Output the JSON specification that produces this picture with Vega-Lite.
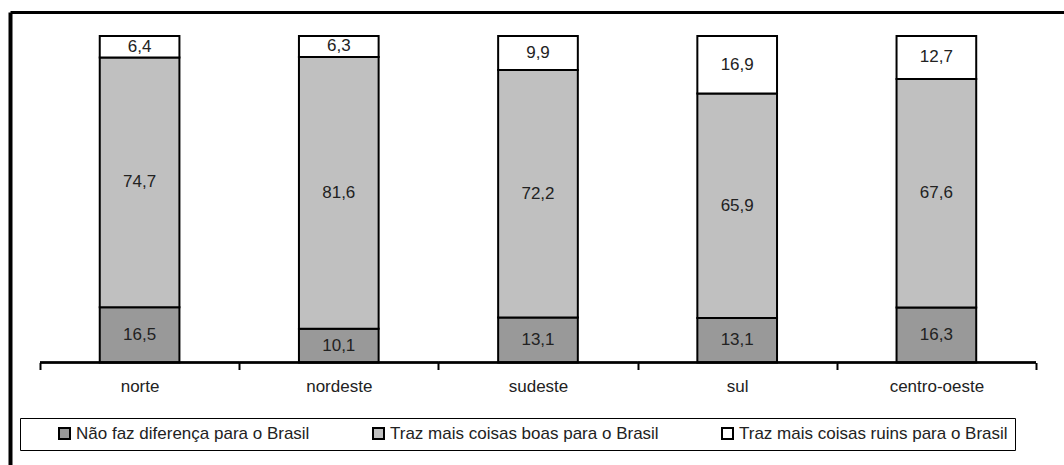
{
  "$schema": "https://vega.github.io/schema/vega-lite/v6.json",
  "width": 1054,
  "height": 453,
  "autosize": {"type": "none"},
  "padding": {"left": 10, "top": 12, "right": 0, "bottom": 0},
  "background": "#ffffff",
  "data": {
    "values": [
      {"region": "norte", "series": "Não faz diferença para o Brasil", "value": 16.5},
      {"region": "norte", "series": "Traz mais coisas boas para o Brasil", "value": 74.7},
      {"region": "norte", "series": "Traz mais coisas ruins para o Brasil", "value": 6.4},
      {"region": "nordeste", "series": "Não faz diferença para o Brasil", "value": 10.1},
      {"region": "nordeste", "series": "Traz mais coisas boas para o Brasil", "value": 81.6},
      {"region": "nordeste", "series": "Traz mais coisas ruins para o Brasil", "value": 6.3},
      {"region": "sudeste", "series": "Não faz diferença para o Brasil", "value": 13.1},
      {"region": "sudeste", "series": "Traz mais coisas boas para o Brasil", "value": 72.2},
      {"region": "sudeste", "series": "Traz mais coisas ruins para o Brasil", "value": 9.9},
      {"region": "sul", "series": "Não faz diferença para o Brasil", "value": 13.1},
      {"region": "sul", "series": "Traz mais coisas boas para o Brasil", "value": 65.9},
      {"region": "sul", "series": "Traz mais coisas ruins para o Brasil", "value": 16.9},
      {"region": "centro-oeste", "series": "Não faz diferença para o Brasil", "value": 16.3},
      {"region": "centro-oeste", "series": "Traz mais coisas boas para o Brasil", "value": 67.6},
      {"region": "centro-oeste", "series": "Traz mais coisas ruins para o Brasil", "value": 12.7}
    ]
  },
  "resolve": {"axis": {"x": "independent"}},
  "layer": [
    {
      "mark": {"type": "bar", "width": {"band": 0.4}, "stroke": "#000000", "strokeWidth": 2},
      "encoding": {
        "x": {
          "field": "region", "type": "nominal",
          "sort": ["norte", "nordeste", "sudeste", "sul", "centro-oeste"],
          "scale": {"paddingInner": 0, "paddingOuter": 0.1456, "align": 0.517},
          "axis": {
            "orient": "bottom", "offset": -102.5, "title": null, "domain": false,
            "ticks": true, "tickBand": "extent", "tickSize": 7, "tickWidth": 2, "tickColor": "#000000",
            "labelAngle": 0, "labelFont": "Liberation Sans", "labelFontSize": 17, "labelColor": "#222222",
            "labelPadding": 9, "grid": false
          }
        },
        "y": {
          "field": "value", "type": "quantitative", "stack": "normalize",
          "scale": {"domain": [-0.31394, 1.0735], "nice": false, "zero": false},
          "axis": {"orient": "left", "title": null, "domain": true, "domainWidth": 4, "domainColor": "#000000", "ticks": false, "labels": false, "grid": false}
        },
        "order": {"field": "series", "sort": "ascending"},
        "color": {
          "field": "series", "type": "nominal",
          "scale": {
            "domain": ["Não faz diferença para o Brasil", "Traz mais coisas boas para o Brasil", "Traz mais coisas ruins para o Brasil"],
            "range": ["#999999", "#c0c0c0", "#ffffff"]
          },
          "legend": {
            "title": " ", "titleOrient": "left", "titlePadding": 29, "titleFontSize": 17, "titleFont": "Liberation Sans",
            "orient": "none", "legendX": 10, "legendY": 406, "direction": "horizontal",
            "padding": 7, "strokeColor": "#000000", "fillColor": "#ffffff",
            "symbolType": "square", "symbolSize": 121, "symbolStrokeColor": "#000000", "symbolStrokeWidth": 2,
            "labelFont": "Liberation Sans", "labelFontSize": 17, "labelColor": "#222222", "labelOffset": 3,
            "columnPadding": 59, "labelLimit": 400,
            "encoding": {"legend": {"update": {"strokeWidth": {"value": 2}}}}
          }
        }
      }
    },
    {
      "mark": {"type": "text", "font": "Liberation Sans", "fontSize": 17, "color": "#222222", "baseline": "middle", "align": "center"},
      "encoding": {
        "x": {"field": "region", "type": "nominal", "sort": ["norte", "nordeste", "sudeste", "sul", "centro-oeste"], "axis": null},
        "y": {
          "field": "value", "type": "quantitative", "stack": "normalize", "bandPosition": 0.5,
          "axis": {"orient": "left", "title": null, "domain": true, "domainWidth": 4, "domainColor": "#000000", "ticks": false, "labels": false, "grid": false}
        },
        "detail": {"field": "series", "type": "nominal"},
        "order": {"field": "series", "sort": "ascending"},
        "text": {"field": "value", "type": "quantitative", "format": ".1f"}
      }
    },
    {
      "mark": {"type": "rule", "color": "#000000", "strokeWidth": 2},
      "encoding": {
        "x": {
          "field": "region", "type": "nominal", "sort": ["norte", "nordeste", "sudeste", "sul", "centro-oeste"], "bandPosition": 0,
          "axis": {"orient": "top", "title": null, "domain": true, "domainWidth": 3, "domainColor": "#000000", "ticks": false, "labels": false, "grid": false}
        },
        "x2": {"field": "region", "bandPosition": 1},
        "y": {"datum": 0}
      }
    }
  ],
  "config": {
    "view": {"stroke": null},
    "locale": {"number": {"decimal": ",", "thousands": ".", "grouping": [3], "currency": ["R$", ""]}}
  }
}
